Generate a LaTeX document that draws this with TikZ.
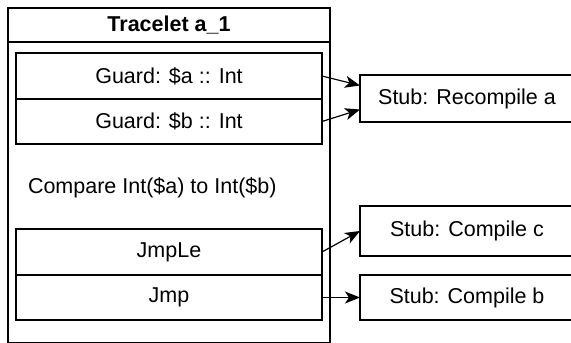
\documentclass[tikz,border=0pt]{standalone}
\usepackage{fontspec}
\setmainfont{Liberation Sans}
\usetikzlibrary{arrows.meta}
\begin{document}
\begin{tikzpicture}[x=1pt,y=-1pt,
  every node/.style={font=\fontsize{21.5}{25}\selectfont, inner sep=0pt, outer sep=0pt},
  box/.style={draw, line width=1.2pt, rectangle},
  conn/.style={line width=1.2pt, -{Stealth[length=15pt,width=12pt,inset=4pt]}}]
\clip (0,0) rectangle (571,343);
\node[box, minimum width=322pt, minimum height=301pt] (body) at (169,192.5) {};
\node[box, minimum width=322pt, minimum height=34pt, font=\fontsize{21.5}{25}\selectfont\bfseries] (title) at (169,25) {Tracelet a\_1};
\node[box, minimum width=306pt, minimum height=46pt] (ga) at (169,76) {Guard: \$a :: Int};
\node[box, minimum width=306pt, minimum height=45pt] (gb) at (169,121.5) {Guard: \$b :: Int};
\node[anchor=west] (cmp) at (28,188) {Compare Int(\$a) to Int(\$b)};
\node[box, minimum width=306pt, minimum height=46pt] (jle) at (169,252) {JmpLe};
\node[box, minimum width=306pt, minimum height=45pt] (jmp) at (169,297.5) {Jmp};
\node[box, minimum width=214pt, minimum height=47pt] (sa) at (467,98.5) {Stub: Recompile a};
\node[box, minimum width=214pt, minimum height=50pt] (sc) at (467,231) {Stub: Compile c};
\node[box, minimum width=214pt, minimum height=45pt] (sb) at (467,297.5) {Stub: Compile b};
\draw[conn] (ga.east) -- ([yshift=13pt]sa.west);
\draw[conn] (gb.east) -- ([yshift=-11pt]sa.west);
\draw[conn] (jle.east) -- (sc.west);
\draw[conn] (jmp.east) -- (sb.west);
\end{tikzpicture}
\end{document}
